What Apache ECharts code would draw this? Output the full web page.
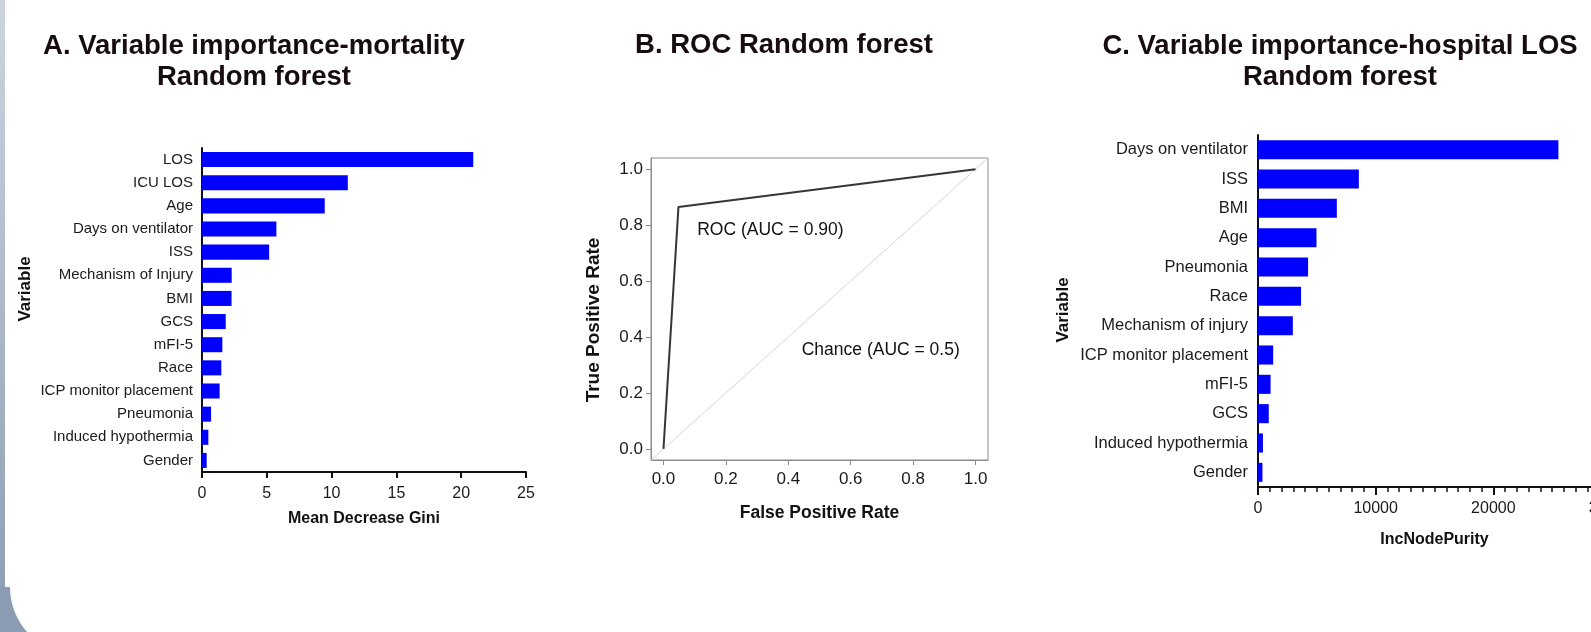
<!DOCTYPE html>
<html>
<head>
<meta charset="utf-8">
<script src="https://cdn.jsdelivr.net/npm/echarts@6/dist/echarts.min.js"></script>
<style>
  html, body { margin: 0; padding: 0; background: #fff; }
  #main { width: 1591px; height: 632px; }
</style>
</head>
<body>
<div id="main"></div>
<script>
// A. mortality model, Mean Decrease Gini
const mortalityVars = ["LOS", "ICU LOS", "Age", "Days on ventilator", "ISS", "Mechanism of Injury", "BMI", "GCS", "mFI-5", "Race", "ICP monitor placement", "Pneumonia", "Induced hypothermia", "Gender"];
const mortalityGini = [20.93, 11.25, 9.47, 5.74, 5.18, 2.29, 2.28, 1.83, 1.57, 1.49, 1.36, 0.70, 0.49, 0.36];

// B. ROC curve
const rocFpr = [0, 0.048, 1];
const rocTpr = [0, 0.865, 1];
const chanceLine = [-0.04, 1.04];
const rateTicks = [0, 0.2, 0.4, 0.6, 0.8, 1.0];

// C. hospital LOS model, IncNodePurity
const losVars = ["Days on ventilator", "ISS", "BMI", "Age", "Pneumonia", "Race", "Mechanism of injury", "ICP monitor placement", "mFI-5", "GCS", "Induced hypothermia", "Gender"];
const losPurity = [25530, 8570, 6700, 4970, 4255, 3660, 2960, 1290, 1070, 915, 420, 380];

const FONT = "'Liberation Sans', Arial, Helvetica, sans-serif";
const INK = "#111";
const BLUE = "#0000ff";
const FRAME = "#8c8c8c";

const chartDom = document.getElementById("main");
const myChart = echarts.init(chartDom);

const titleStyle = { fontSize: 27.5, fontWeight: "bold", lineHeight: 31, color: "#160c12", fontFamily: FONT };
const nameStyle = (size) => ({ fontSize: size, fontWeight: "bold", color: INK, fontFamily: FONT });
const blackLine = { show: true, onZero: false, lineStyle: { color: INK, width: 2 } };
const grayLine = { show: true, onZero: false, lineStyle: { color: FRAME, width: 1 } };

const option = {
  animation: false,
  backgroundColor: "#fff",
  title: [
    { text: "A. Variable importance-mortality\nRandom forest", left: 254, top: 31, textAlign: "center", padding: 0, textStyle: titleStyle },
    { text: "B. ROC Random forest", left: 784, top: 29.5, textAlign: "center", padding: 0, textStyle: titleStyle },
    { text: "C. Variable importance-hospital LOS\nRandom forest", left: 1340, top: 31, textAlign: "center", padding: 0, textStyle: titleStyle },
  ],
  grid: [
    { left: 202, top: 148, width: 324, height: 324, outerBoundsMode: "none" },
    { left: 651, top: 158, width: 337, height: 302, outerBoundsMode: "none", show: true, borderColor: FRAME, borderWidth: 1 },
    { left: 1258, top: 135, width: 353, height: 352, outerBoundsMode: "none" },
  ],
  xAxis: [
    {
      gridIndex: 0, type: "value", min: 0, max: 25, interval: 5,
      axisLine: blackLine,
      axisTick: { show: true, length: 6, lineStyle: { color: INK, width: 2 } },
      axisLabel: { fontSize: 16, color: "#1a1a1a", margin: 14, fontFamily: FONT },
      splitLine: { show: false },
      name: "Mean Decrease Gini", nameLocation: "middle", nameGap: 39, nameTextStyle: nameStyle(16),
    },
    {
      gridIndex: 1, type: "value", min: -0.04, max: 1.04,
      axisLine: grayLine,
      axisTick: { show: true, length: 5, customValues: rateTicks, lineStyle: { color: FRAME } },
      axisLabel: { customValues: rateTicks, formatter: (v) => v.toFixed(1), fontSize: 17, color: "#1a1a1a", margin: 11, fontFamily: FONT },
      splitLine: { show: false },
      name: "False Positive Rate", nameLocation: "middle", nameGap: 44, nameTextStyle: nameStyle(17.5),
    },
    {
      gridIndex: 2, type: "value", min: 0, max: 30000, interval: 10000,
      axisLine: blackLine,
      axisTick: { show: true, length: 8, lineStyle: { color: INK, width: 2 } },
      minorTick: { show: true, splitNumber: 10, length: 5, lineStyle: { color: INK, width: 1.5 } },
      axisLabel: { formatter: (v) => String(v), fontSize: 16, color: "#1a1a1a", margin: 14, fontFamily: FONT },
      splitLine: { show: false },
      name: "IncNodePurity", nameLocation: "middle", nameGap: 45, nameTextStyle: nameStyle(16),
    },
  ],
  yAxis: [
    {
      gridIndex: 0, type: "category", data: mortalityVars, inverse: true,
      axisLine: blackLine,
      axisTick: { alignWithLabel: true, interval: 0, length: 8, lineStyle: { color: INK, width: 2 } },
      axisLabel: { interval: 0, fontSize: 15, color: "#1a1a1a", margin: 9, fontFamily: FONT },
    },
    {
      gridIndex: 1, type: "value", min: -0.04, max: 1.04,
      axisLine: grayLine,
      axisTick: { show: true, length: 5, customValues: rateTicks, lineStyle: { color: FRAME } },
      axisLabel: { customValues: rateTicks, formatter: (v) => v.toFixed(1), fontSize: 17, color: "#1a1a1a", margin: 8, fontFamily: FONT },
      splitLine: { show: false },
    },
    {
      gridIndex: 2, type: "category", data: losVars, inverse: true,
      axisLine: blackLine,
      axisTick: { alignWithLabel: true, interval: 0, length: 8, lineStyle: { color: INK, width: 2 } },
      axisLabel: { interval: 0, fontSize: 16.5, color: "#1a1a1a", margin: 10, fontFamily: FONT },
    },
  ],
  series: [
    {
      name: "Mean Decrease Gini", type: "bar", xAxisIndex: 0, yAxisIndex: 0,
      data: mortalityGini, barWidth: "65%", itemStyle: { color: BLUE },
    },
    {
      name: "Chance", type: "line", xAxisIndex: 1, yAxisIndex: 1,
      data: chanceLine.map((v) => [v, v]), symbol: "none",
      lineStyle: { color: "#d6d6d6", width: 1 },
    },
    {
      name: "ROC", type: "line", xAxisIndex: 1, yAxisIndex: 1,
      data: rocFpr.map((x, i) => [x, rocTpr[i]]), symbol: "none",
      lineStyle: { color: "#363636", width: 2 },
    },
    {
      name: "IncNodePurity", type: "bar", xAxisIndex: 2, yAxisIndex: 2,
      data: losPurity, barWidth: "65%", itemStyle: { color: BLUE },
    },
  ],
};

option && myChart.setOption(option);

// annotations anchored in ROC data space
const rocLabel = myChart.convertToPixel({ gridIndex: 1 }, [0.108, 0.781]);
const chanceLabel = myChart.convertToPixel({ gridIndex: 1 }, [0.443, 0.352]);

const plainText = (x, y, text, size) => ({
  type: "text", x, y, z: 100,
  style: {
    text, fill: INK, font: size + "px " + FONT,
    textAlign: "left", textVerticalAlign: "middle", align: "left", verticalAlign: "middle",
  },
});
const rotatedName = (x, y, text, size) => ({
  type: "text", x, y, z: 100, rotation: Math.PI / 2,
  style: {
    text, fill: INK, font: "bold " + size + "px " + FONT,
    textAlign: "center", textVerticalAlign: "middle", align: "center", verticalAlign: "middle",
  },
});

myChart.setOption({
  graphic: [
    // slide edge behind the figure
    {
      type: "rect", z: -10, shape: { x: 0, y: 0, width: 5, height: 632 },
      style: { fill: new echarts.graphic.LinearGradient(0, 0, 0, 1, [
        { offset: 0, color: "#cdd4de" }, { offset: 1, color: "#8b9cb3" },
      ]) },
    },
    { type: "rect", z: -10, shape: { x: 0, y: 587, width: 90, height: 45 }, style: { fill: "#8b9cb3" } },
    { type: "rect", z: -9, shape: { x: 10, y: 500, width: 200, height: 155, r: [0, 0, 0, 68] }, style: { fill: "#fff" } },
    rotatedName(25, 289, "Variable", 17),
    rotatedName(594, 320, "True Positive Rate", 19),
    rotatedName(1063, 310, "Variable", 17),
    plainText(rocLabel[0], rocLabel[1], "ROC (AUC = 0.90)", 17.5),
    plainText(chanceLabel[0], chanceLabel[1], "Chance (AUC = 0.5)", 17.5),
  ],
});
</script>
</body>
</html>
